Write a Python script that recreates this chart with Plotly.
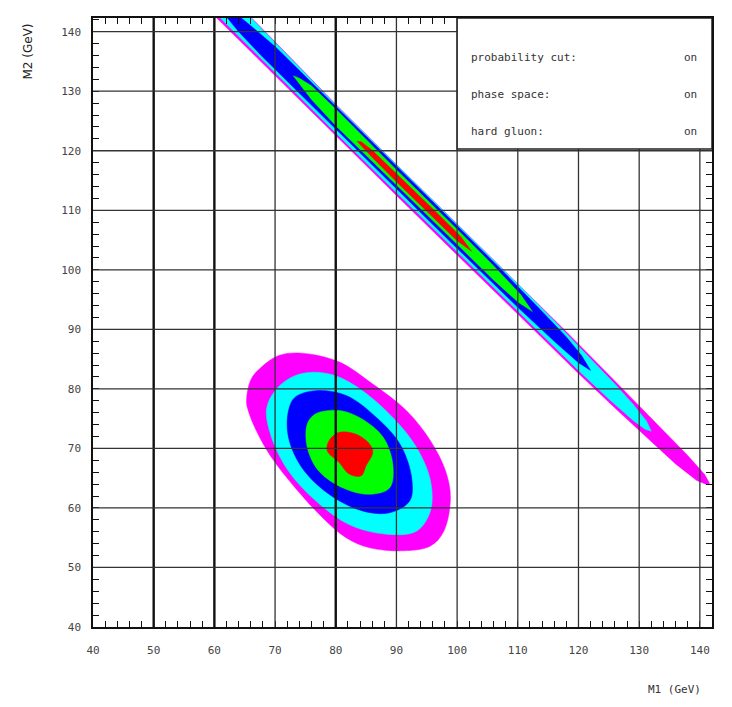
import plotly.graph_objects as go

# ---------------- data ----------------
x_ticks = [40, 50, 60, 70, 80, 90, 100, 110, 120, 130, 140]
y_ticks = [40, 50, 60, 70, 80, 90, 100, 110, 120, 130, 140]

# contour regions of the elliptical distribution (M1, M2 in GeV)
ell_magenta_x = [74.4, 80.6, 86.1, 91.7, 95.6, 98.1, 98.9, 97.8, 95.6, 91.1, 85.6, 81.7, 77.8, 73.3, 69.4, 66.9, 65.6, 65.3, 66.0, 67.8, 70.6]
ell_magenta_y = [86.0, 84.5, 80.8, 76.3, 71.3, 66.2, 61.7, 56.1, 53.6, 52.8, 53.3, 55.0, 58.4, 63.4, 68.5, 73.0, 76.3, 77.8, 81.5, 83.7, 85.6]
ell_cyan_x = [76.1, 80.0, 84.4, 89.4, 93.3, 95.6, 95.6, 93.3, 88.3, 82.2, 76.7, 72.2, 69.4, 68.6, 70.0, 72.8]
ell_cyan_y = [82.8, 82.2, 79.7, 75.2, 70.2, 64.6, 59.5, 56.1, 55.6, 57.2, 61.2, 66.2, 71.9, 76.6, 79.7, 82.0]
ell_blue_x = [76.7, 81.7, 86.7, 90.6, 92.5, 92.2, 88.9, 84.4, 78.9, 74.4, 72.2, 72.2, 73.3]
ell_blue_y = [79.7, 78.9, 75.2, 70.7, 65.1, 61.2, 59.2, 59.5, 62.3, 66.8, 71.9, 76.3, 78.6]
ell_green_x = [78.3, 81.1, 84.4, 87.8, 89.4, 88.9, 85.6, 81.1, 77.2, 75.3, 75.3, 76.5]
ell_green_y = [76.3, 76.3, 74.9, 71.9, 67.4, 63.4, 62.3, 63.4, 66.2, 70.2, 74.1, 75.7]
ell_red_x = [80.6, 83.3, 85.6, 86.1, 85.0, 84.2, 82.2, 80.6, 78.6, 78.9]
ell_red_y = [72.7, 72.4, 70.7, 69.3, 67.1, 65.4, 65.7, 67.6, 69.6, 71.3]

# contour regions of the diagonal band
band_magenta_x = [59.2, 70, 80, 90, 100, 110, 120, 126, 131, 136, 139.5, 141.0, 141.6, 140.8, 138, 134, 130, 124, 118, 110, 100, 90, 80, 72, 66, 65.0]
band_magenta_y = [143.5, 132.6, 122.5, 112.5, 102.5, 92.5, 82.6, 76.8, 72.1, 67.4, 64.6, 64.0, 64.1, 65.6, 68.8, 73.0, 77.2, 83.4, 89.6, 97.7, 107.7, 117.7, 127.8, 136.2, 142.4, 143.5]
band_cyan_x = [59.8, 70, 80, 90, 100, 110, 120, 125, 129, 131, 132.0, 131.2, 129, 126, 122, 116, 110, 100, 90, 80, 72, 66, 64.9]
band_cyan_y = [143.5, 133.1, 123.0, 113.0, 103.0, 93.0, 83.1, 78.3, 74.7, 73.2, 72.9, 74.6, 77.4, 80.8, 85.1, 91.4, 97.6, 107.6, 117.6, 127.7, 136.1, 142.3, 143.5]
band_blue_x = [61.2, 64, 68, 80, 90, 100, 110, 116, 120, 122.0, 120.5, 118, 114, 108, 100, 90, 80, 70, 66, 63.0]
band_blue_y = [143.5, 140.0, 135.7, 123.6, 113.6, 103.6, 93.7, 88.0, 84.4, 83.1, 85.6, 88.7, 93.0, 99.3, 107.4, 117.4, 127.5, 137.5, 141.0, 143.5]
band_green_x = [73.0, 76, 80, 90, 100, 106, 110, 112.4, 110.5, 106, 100, 90, 80, 76, 74]
band_green_y = [132.6, 128.6, 124.2, 114.2, 104.2, 98.3, 94.6, 93.0, 95.8, 100.7, 106.8, 116.8, 127.0, 130.9, 132.2]
band_red_x = [83.5, 86, 90, 96, 100, 102.4, 100.5, 96, 90, 86, 84.2]
band_red_y = [121.6, 118.9, 114.8, 108.8, 104.9, 103.1, 105.7, 110.2, 116.2, 120.1, 121.5]

info_labels = ["probability cut:", "phase space:", "hard gluon:"]
info_values = ["on", "on", "on"]

x_title = "M1 (GeV)"
y_title = "M2 (GeV)"

# ---------------- figure ----------------
MAG, CYA, BLU, GRN, RED = "#ff00ff", "#00ffff", "#0000ff", "#00ff00", "#ff0000"
fig = go.Figure()


def region(xs, ys, color, smooth):
    xs = list(xs) + [xs[0]]
    ys = list(ys) + [ys[0]]
    fig.add_trace(go.Scatter(
        x=xs, y=ys, mode="lines", fill="toself", fillcolor=color,
        line=dict(color=color, width=0.5, shape="spline" if smooth else "linear",
                  smoothing=1.0),
        hoverinfo="skip", showlegend=False))


for xs, ys, c in [(band_magenta_x, band_magenta_y, MAG), (band_cyan_x, band_cyan_y, CYA),
                  (band_blue_x, band_blue_y, BLU), (band_green_x, band_green_y, GRN),
                  (band_red_x, band_red_y, RED)]:
    region(xs, ys, c, False)

for xs, ys, c in [(ell_magenta_x, ell_magenta_y, MAG), (ell_cyan_x, ell_cyan_y, CYA),
                  (ell_blue_x, ell_blue_y, BLU), (ell_green_x, ell_green_y, GRN),
                  (ell_red_x, ell_red_y, RED)]:
    region(xs, ys, c, True)

XMIN, XMAX = 40, 142
YMIN, YMAX = 40, 142.3

shapes = []
heavy = {50, 60, 80}
for v in x_ticks[1:]:
    shapes.append(dict(type="line", xref="x", yref="paper", x0=v, x1=v, y0=0, y1=1,
                       layer="above",
                       line=dict(color="#111111" if v in heavy else "#333333",
                                 width=2.4 if v in heavy else 1.3)))
for v in y_ticks[1:]:
    shapes.append(dict(type="line", xref="paper", yref="y", x0=0, x1=1, y0=v, y1=v,
                       layer="above", line=dict(color="#333333", width=1.3)))
# information box (upper right)
shapes.append(dict(type="rect", xref="x", yref="y", x0=100, x1=XMAX, y0=120.3, y1=YMAX,
                   layer="above", fillcolor="white", line=dict(color="#222222", width=1.5)))

annotations = []
row_y = [135.6, 129.4, 123.3]
for lab, val, yy in zip(info_labels, info_values, row_y):
    annotations.append(dict(x=102.0, y=yy, xref="x", yref="y", text=lab, showarrow=False,
                            xanchor="left", yanchor="middle",
                            font=dict(family="DejaVu Sans Mono", size=11, color="#333333")))
    annotations.append(dict(x=139.8, y=yy, xref="x", yref="y", text=val, showarrow=False,
                            xanchor="right", yanchor="middle",
                            font=dict(family="DejaVu Sans Mono", size=11, color="#333333")))
annotations.append(dict(x=0.94, y=-0.103, xref="paper", yref="paper", text=x_title,
                        showarrow=False, xanchor="center", yanchor="middle",
                        font=dict(family="DejaVu Sans Mono", size=11, color="#333333")))
annotations.append(dict(x=-0.105, y=0.945, xref="paper", yref="paper", text=y_title,
                        showarrow=False, textangle=-90, xanchor="center", yanchor="middle",
                        font=dict(family="DejaVu Sans", size=12, color="#222222")))

axis_common = dict(
    showgrid=False, zeroline=False, showline=True, linecolor="#111111", linewidth=1.5,
    mirror="allticks", ticks="inside", ticklen=6, tickcolor="#111111", tickwidth=1,
    layer="above traces",
    tickfont=dict(family="DejaVu Sans Mono", size=11, color="#444444"),
    minor=dict(dtick=2, ticks="inside", ticklen=6, tickcolor="#111111", tickwidth=1,
               showgrid=False),
)

fig.update_layout(
    width=732, height=707,
    margin=dict(l=93, r=20, t=18, b=80),
    paper_bgcolor="white", plot_bgcolor="white",
    xaxis=dict(range=[XMIN, XMAX], tickvals=x_ticks, ticktext=[str(v) for v in x_ticks],
               ticklabelstandoff=12, **axis_common),
    yaxis=dict(range=[YMIN, YMAX], tickvals=y_ticks, ticktext=[str(v) for v in y_ticks],
               ticklabelstandoff=8, **axis_common),
    shapes=shapes, annotations=annotations,
)

fig.write_html("out.html")
